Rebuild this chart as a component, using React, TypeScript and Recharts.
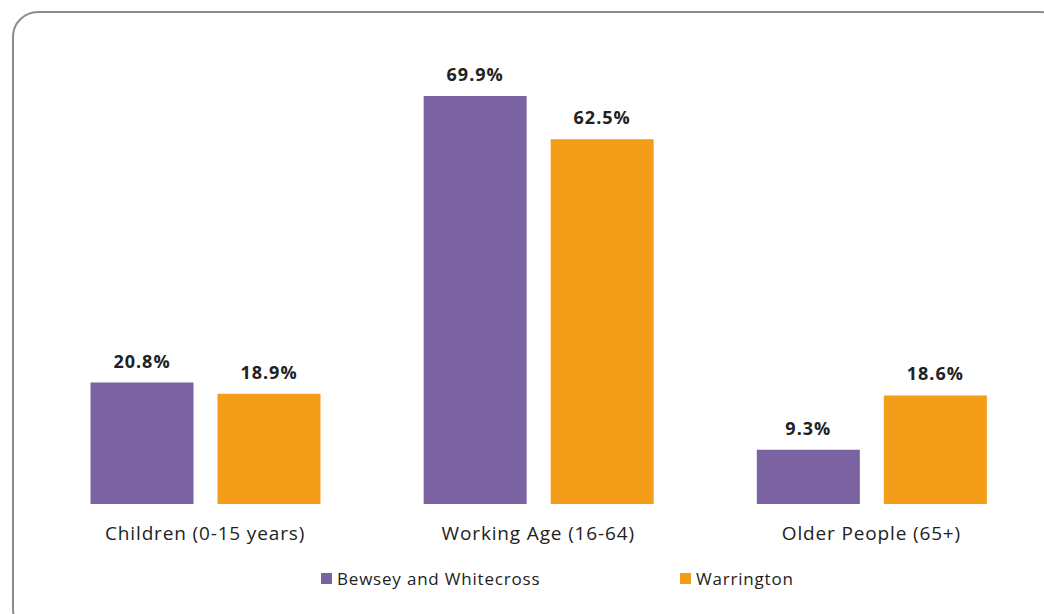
import React from 'react';
import { BarChart, Bar, XAxis, YAxis, Legend, LabelList } from 'recharts';

const categories = ['Children (0-15 years)', 'Working Age (16-64)', 'Older People (65+)'];
const bewsey = [20.8, 69.9, 9.3];
const warrington = [18.9, 62.5, 18.6];
const seriesNames = ['Bewsey and Whitecross', 'Warrington'];
const seriesKeys = ['bewsey', 'warrington'];
const colors = ['#7A63A0', '#F49D19'];
const legendLeft = [321, 680];

const data = categories.map((c, i) => ({ category: c, bewsey: bewsey[i], warrington: warrington[i] }));

const FONT = '"Open Sans", Lato, sans-serif';
const TEXT = '#222222';

const CategoryTick = (props: any) => {
  const { x, y, payload } = props;
  return (
    <text x={x} y={y + 28} textAnchor="middle" fontFamily={FONT} fontSize={19} letterSpacing={0.85} fill={TEXT}>
      {payload.value}
    </text>
  );
};

const ValueLabel = (props: any) => {
  const { x, y, width, value } = props;
  return (
    <text x={x + width / 2} y={y - 15} textAnchor="middle" fontFamily={FONT} fontSize={18} fontWeight={700} letterSpacing={1} fill={TEXT}>
      {Number(value).toFixed(1)}%
    </text>
  );
};

const LegendContent = () => (
  <div style={{ position: 'relative', height: 26, width: 1044, fontFamily: FONT, fontSize: 17, letterSpacing: 0.8, color: TEXT }}>
    {seriesNames.map((n, i) => (
      <div key={n} style={{ position: 'absolute', left: legendLeft[i], top: 0, height: 26, display: 'flex', alignItems: 'center' }}>
        <span style={{ display: 'inline-block', width: 11, height: 11, background: colors[i], marginRight: 5 }} />
        <span>{n}</span>
      </div>
    ))}
  </div>
);

export default function App() {
  return (
    <div style={{ position: 'absolute', left: 0, top: 0, width: 1044, height: 614, overflow: 'hidden', background: '#fff' }}>
      <div style={{ position: 'absolute', left: 12, top: 11, width: 1050, height: 620, border: '2px solid #8c8c8c', borderRadius: 26 }} />
      <div style={{ position: 'absolute', left: 0, top: 0 }}>
        <BarChart width={1044} height={614} data={data} margin={{ top: 37, right: 6, bottom: 54, left: 38.5 }} barSize={103} barGap={24}>
          <XAxis dataKey="category" axisLine={false} tickLine={false} height={30} tick={<CategoryTick />} interval={0} />
          <YAxis hide domain={[0, 80]} />
          <Legend verticalAlign="bottom" content={<LegendContent />} wrapperStyle={{ left: 0, top: 565, width: 1044 }} />
          {seriesKeys.map((k, i) => (
            <Bar key={k} dataKey={k} name={seriesNames[i]} fill={colors[i]} isAnimationActive={false}>
              <LabelList dataKey={k} content={<ValueLabel />} />
            </Bar>
          ))}
        </BarChart>
      </div>
    </div>
  );
}
